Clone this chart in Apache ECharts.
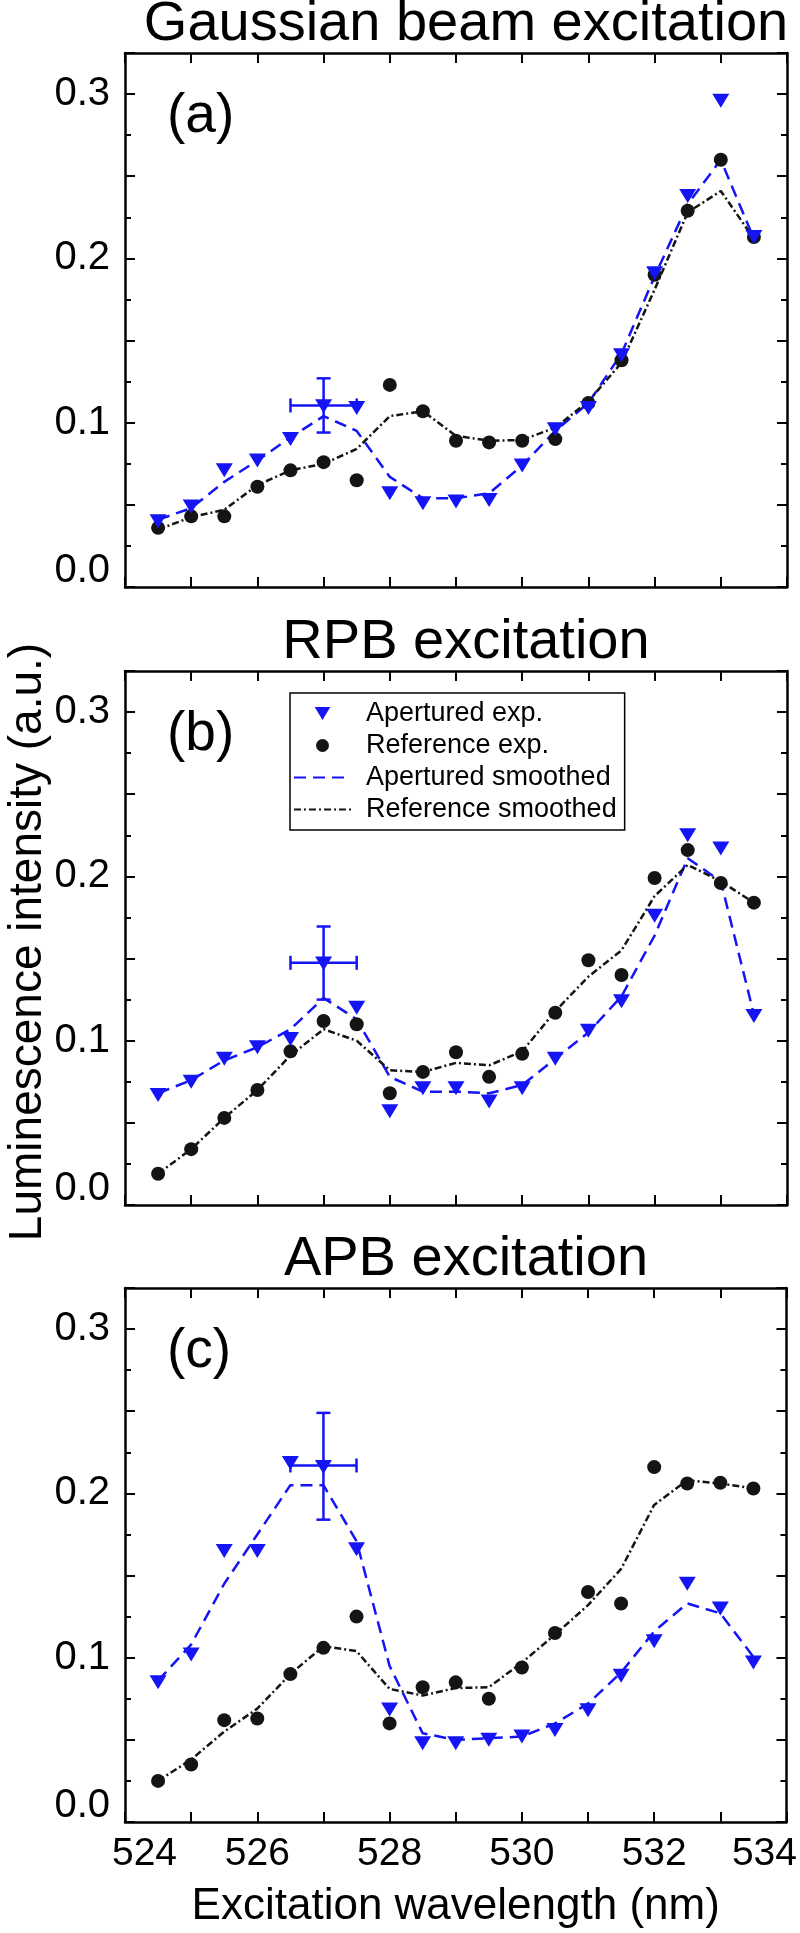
<!DOCTYPE html>
<html><head><meta charset="utf-8">
<script src="https://cdn.jsdelivr.net/npm/echarts@6/dist/echarts.min.js"></script>
<style>html,body{margin:0;padding:0;background:#fff}#c{width:800px;height:1933px}</style>
</head><body><div id="c"></div>
<script>
// ---------- data ----------
const wavelengths = [524.5,525,525.5,526,526.5,527,527.5,528,528.5,529,529.5,530,530.5,531,531.5,532,532.5,533,533.5];

const panelTitles = ['Gaussian beam excitation', 'RPB excitation', 'APB excitation'];
const panelLabels = ['(a)', '(b)', '(c)'];
const seriesNames = ['Apertured exp.', 'Reference exp.', 'Apertured smoothed', 'Reference smoothed'];
const xAxisName = 'Excitation wavelength (nm)';
const yAxisName = 'Luminescence intensity (a.u.)';

// panel (a) Gaussian beam
const apExpA = [0.040,0.049,0.071,0.077,0.090,0.110,0.109,0.057,0.051,0.052,0.053,0.074,0.096,0.109,0.141,0.191,0.238,0.296,0.213];
const refExpA = [0.036,0.043,0.043,0.061,0.071,0.076,0.065,0.123,0.107,0.089,0.088,0.089,0.090,0.112,0.138,0.190,0.229,0.260,0.213];
const apSmA = [0.041,0.048,0.064,0.077,0.091,0.104,0.095,0.067,0.054,0.054,0.057,0.074,0.095,0.112,0.142,0.189,0.233,0.260,0.212];
const refSmA = [0.035,0.0425,0.047,0.062,0.071,0.075,0.084,0.104,0.107,0.092,0.089,0.0895,0.097,0.113,0.1365,0.181,0.228,0.241,0.212];
const errA = [527, 0.1105, 0.094, 0.127, 526.5, 527.5];

// panel (b) RPB
const apExpB = [0.067,0.075,0.089,0.096,0.101,0.147,0.120,0.057,0.071,0.071,0.063,0.071,0.089,0.106,0.124,0.176,0.225,0.217,0.115];
const refExpB = [0.019,0.034,0.053,0.070,0.0935,0.112,0.110,0.068,0.081,0.093,0.078,0.092,0.117,0.149,0.140,0.199,0.216,0.196,0.184];
const apSmB = [0.068,0.076,0.088,0.096,0.107,0.126,0.113,0.078,0.069,0.069,0.068,0.073,0.089,0.105,0.127,0.164,0.211,0.197,0.116];
const refSmB = [0.019,0.034,0.053,0.070,0.091,0.107,0.100,0.082,0.081,0.0865,0.085,0.0935,0.118,0.139,0.155,0.188,0.207,0.197,0.184];
const errB = [527, 0.1474, 0.125, 0.1695, 526.5, 527.5];

// panel (c) APB
const apExpC = [0.085,0.102,0.165,0.165,0.2185,0.216,0.166,0.0685,0.048,0.048,0.050,0.052,0.056,0.068,0.089,0.110,0.145,0.130,0.097];
const refExpC = [0.025,0.035,0.062,0.063,0.090,0.106,0.125,0.060,0.082,0.085,0.075,0.094,0.115,0.140,0.133,0.216,0.206,0.2065,0.203];
const apSmC = [0.086,0.108,0.145,0.175,0.205,0.205,0.171,0.095,0.054,0.050,0.051,0.052,0.060,0.072,0.091,0.116,0.133,0.127,0.1005];
const refSmC = [0.025,0.038,0.055,0.069,0.090,0.107,0.104,0.081,0.077,0.0815,0.082,0.097,0.114,0.132,0.154,0.193,0.208,0.206,0.203];
const errC = [527, 0.217, 0.184, 0.249, 526.5, 527.5];

const panels = [
  [apExpA, refExpA, apSmA, refSmA, errA],
  [apExpB, refExpB, apSmB, refSmB, errB],
  [apExpC, refExpC, apSmC, refSmC, errC]
];

// ---------- style ----------
const FONT = '"Liberation Sans", Arial, Helvetica, sans-serif';
const BLUE = '#1414f5';
const BLACK = '#141414';
const gridTops = [53, 671, 1288];
const gridH = 534;
const gridLeft = 125, gridRight = 13;

const zip = ys => wavelengths.map((x, i) => [x, ys[i]]);

const grids = [], xAxes = [], yAxes = [], series = [], graphics = [];

panels.forEach((p, gi) => {
  grids.push({left: gridLeft, right: gridRight, top: gridTops[gi], height: gridH});
  const isLast = gi === 2;
  // bottom x axis
  xAxes.push({
    type: 'value', gridIndex: gi, position: 'bottom', min: 524, max: 534, interval: 1,
    axisLine: {show: true, onZero: false, lineStyle: {color: '#000', width: 2.5}},
    axisTick: {show: true, inside: true, length: 10, lineStyle: {color: '#000', width: 2}},
    splitLine: {show: false},
    axisLabel: isLast ? {
      show: true, showMinLabel: true, showMaxLabel: true, margin: 13,
      color: '#000', fontSize: 39, fontFamily: FONT,
      formatter: v => {
        if (Math.abs(v - 524) < 1e-6) return '{l|524}';
        if (Math.abs(v - 534) < 1e-6) return '{r|534}';
        return (Math.round(v) % 2 === 0) ? String(Math.round(v)) : '';
      },
      rich: {
        l: {fontSize: 39, fontFamily: FONT, color: '#000', padding: [0, 0, 0, 39]},
        r: {fontSize: 39, fontFamily: FONT, color: '#000', padding: [0, 44, 0, 0]}
      }
    } : {show: false},
    name: isLast ? xAxisName : '',
    nameLocation: 'middle', nameGap: 63,
    nameTextStyle: {fontSize: 44, fontFamily: FONT, color: '#000'}
  });
  // top x axis (mirror)
  xAxes.push({
    type: 'value', gridIndex: gi, position: 'top', min: 524, max: 534, interval: 1,
    axisLine: {show: true, onZero: false, lineStyle: {color: '#000', width: 2.5}},
    axisTick: {show: true, inside: true, length: 10, lineStyle: {color: '#000', width: 2}},
    axisLabel: {show: false}, splitLine: {show: false}
  });
  // y axes: left minor, left major, right minor, right major
  const yBase = (pos, interval, len, line, labels) => ({
    type: 'value', gridIndex: gi, position: pos, min: 0, max: 0.325, interval: interval,
    axisLine: {show: line, onZero: false, lineStyle: {color: '#000', width: 2.5}},
    axisTick: {show: true, inside: true, length: len, lineStyle: {color: '#000', width: 2}},
    splitLine: {show: false},
    axisLabel: labels ? {
      show: true, showMinLabel: true, showMaxLabel: true, margin: 15,
      color: '#000', fontSize: 40, fontFamily: FONT,
      formatter: v => {
        const t = v * 10;
        if (Math.abs(t - Math.round(t)) > 1e-6 || v > 0.31) return '';
        if (Math.abs(v) < 1e-9) return '{z|0.0}';
        return v.toFixed(1);
      },
      rich: {z: {fontSize: 40, fontFamily: FONT, color: '#000', padding: [0, 0, 32, 0]}}
    } : {show: false}
  });
  yAxes.push(yBase('left', 0.025, 6, true, true));
  yAxes.push(yBase('left', 0.05, 10, false, false));
  yAxes.push(yBase('right', 0.025, 6, true, false));
  yAxes.push(yBase('right', 0.05, 10, false, false));

  const xi = gi * 2, yi = gi * 4;
  const [apExp, refExp, apSm, refSm, err] = p;
  series.push({
    name: seriesNames[2], type: 'line', xAxisIndex: xi, yAxisIndex: yi, data: zip(apSm),
    symbol: 'none', z: 2, color: BLUE,
    lineStyle: {color: BLUE, width: 2.5, type: [12, 7]}
  });
  series.push({
    name: seriesNames[3], type: 'line', xAxisIndex: xi, yAxisIndex: yi, data: zip(refSm),
    symbol: 'none', z: 2, color: BLACK,
    lineStyle: {color: BLACK, width: 2.5, type: [7, 3, 2, 3]}
  });
  series.push({
    name: seriesNames[0], type: 'scatter', xAxisIndex: xi, yAxisIndex: yi, data: zip(apExp),
    symbol: 'triangle', symbolRotate: 180, symbolSize: [17, 14], z: 4,
    itemStyle: {color: BLUE, opacity: 1}
  });
  series.push({
    name: seriesNames[1], type: 'scatter', xAxisIndex: xi, yAxisIndex: yi, data: zip(refExp),
    symbol: 'circle', symbolSize: 14, z: 3,
    itemStyle: {color: BLACK, opacity: 1}
  });
  series.push({
    type: 'custom', xAxisIndex: xi, yAxisIndex: yi, data: [err], z: 5, silent: true,
    renderItem: (params, api) => {
      const x = api.value(0), y = api.value(1);
      const top = api.coord([x, api.value(3)]), bot = api.coord([x, api.value(2)]);
      const l = api.coord([api.value(4), y]), r = api.coord([api.value(5), y]);
      const c = 7;
      const st = {stroke: BLUE, lineWidth: 2.5};
      const ln = (x1, y1, x2, y2) => ({type: 'line', shape: {x1, y1, x2, y2}, style: st});
      return {type: 'group', children: [
        ln(top[0], top[1], bot[0], bot[1]),
        ln(top[0] - c, top[1], top[0] + c, top[1]),
        ln(bot[0] - c, bot[1], bot[0] + c, bot[1]),
        ln(l[0], l[1], r[0], r[1]),
        ln(l[0], l[1] - c, l[0], l[1] + c),
        ln(r[0], r[1] - c, r[0], r[1] + c)
      ]};
    }
  });

  graphics.push({
    type: 'text', x: 466, y: gridTops[gi] - 28,
    style: {text: panelTitles[gi], font: '56px ' + FONT, fill: '#000', align: 'center', verticalAlign: 'middle'}
  });
  graphics.push({
    type: 'text', x: 167, y: gridTops[gi] + 64,
    style: {text: panelLabels[gi], font: '55px ' + FONT, fill: '#000', align: 'left', verticalAlign: 'middle'}
  });
});

graphics.push({
  type: 'text', x: 28, y: 942, rotation: Math.PI / 2,
  style: {text: yAxisName, font: '46px ' + FONT, fill: '#000', align: 'center', verticalAlign: 'middle'}
});

const chart = echarts.init(document.getElementById('c'), null, {renderer: 'canvas'});
chart.setOption({
  animation: false,
  backgroundColor: '#fff',
  grid: grids,
  xAxis: xAxes,
  yAxis: yAxes,
  legend: {
    data: [
      {name: seriesNames[0], icon: 'path://M0,0L18,0L9,15Z'},
      {name: seriesNames[1], icon: 'circle'},
      {name: seriesNames[2], itemStyle: {opacity: 0}},
      {name: seriesNames[3], itemStyle: {opacity: 0}}
    ],
    orient: 'vertical', left: 290, top: 693,
    borderColor: '#000', borderWidth: 1.5,
    padding: [7, 8, 7, 3],
    itemGap: 5, itemWidth: 57, itemHeight: 13,
    symbolRotate: 0, symbolKeepAspect: true,
    textStyle: {fontSize: 27, fontFamily: FONT, color: '#000', padding: [0, 0, 0, 10]},
    selectedMode: false
  },
  series: series,
  graphic: graphics
});
</script>
</body></html>
